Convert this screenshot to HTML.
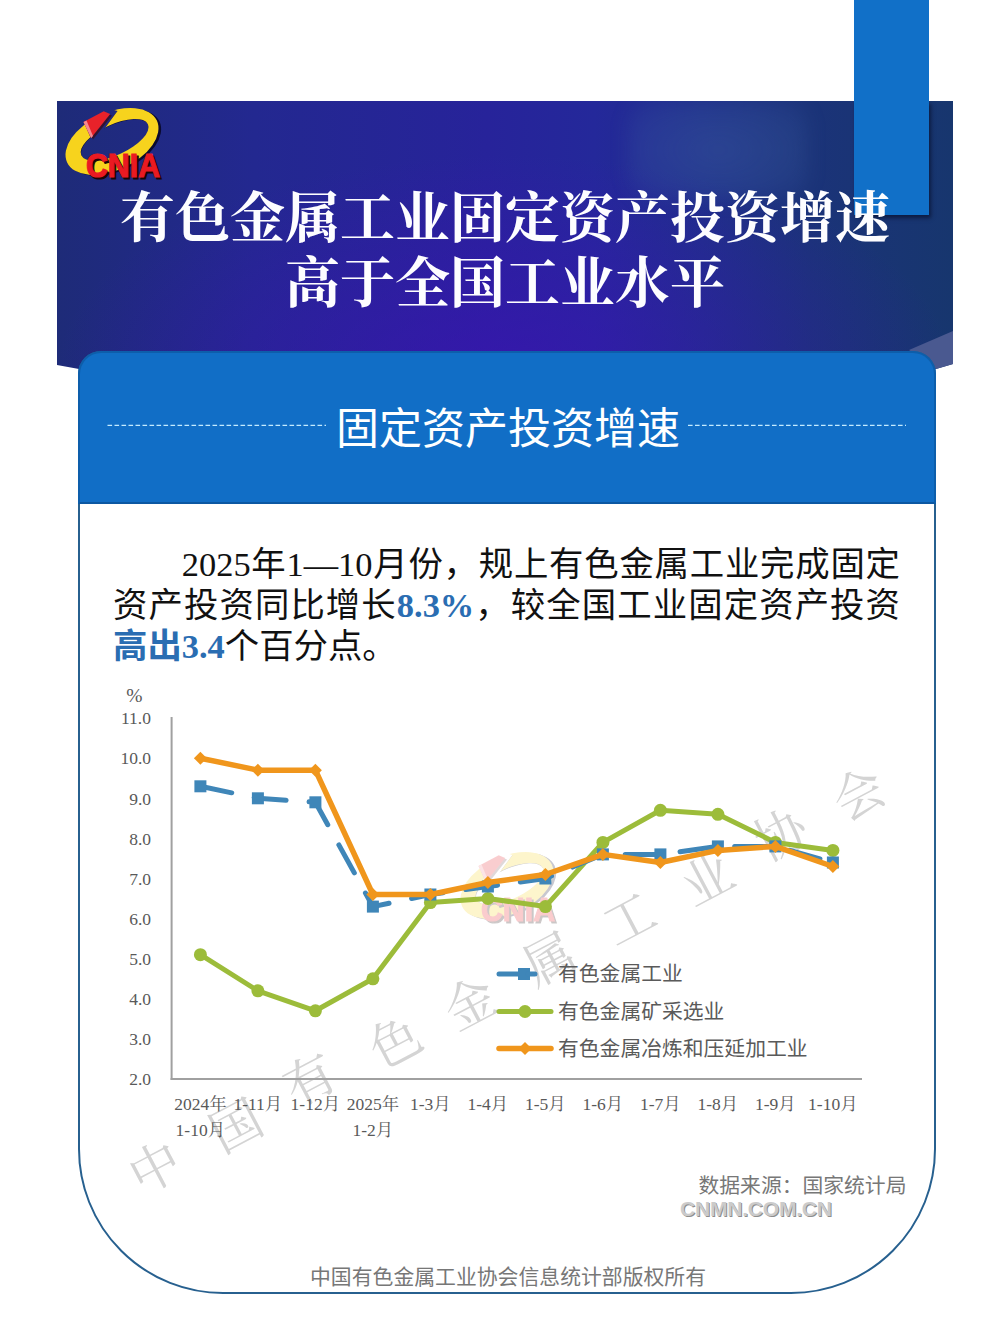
<!DOCTYPE html>
<html lang="zh-CN">
<head>
<meta charset="utf-8">
<title>有色金属工业固定资产投资增速高于全国工业水平</title>
<style>
html,body{margin:0;padding:0;}
body{width:1008px;height:1344px;overflow:hidden;background:#fff;position:relative;font-family:"Liberation Sans","Noto Sans CJK SC",sans-serif;}
.abs{position:absolute;}
#header{left:57px;top:101px;width:896px;height:268px;
  background:radial-gradient(ellipse 50% 80% at 50% 100%,rgba(62,16,182,0.6) 0%,rgba(62,16,182,0.28) 55%,rgba(62,16,182,0) 100%),
  linear-gradient(90deg,#1e2b78 0%,#232890 22%,#27239a 48%,#24289a 60%,#1f2f8a 72%,#1b3379 84%,#17366e 100%);
  clip-path:polygon(0 0,100% 0,100% 263px,879px 268px,22px 268px,0 264px);}
#glow{left:571px;top:-1px;width:180px;height:100px;border-radius:24px;
  background:radial-gradient(ellipse at center,rgba(70,110,170,0.32) 0%,rgba(70,110,170,0.2) 60%,rgba(70,110,170,0.06) 100%);filter:blur(9px);}
#fold{left:0;top:0;width:1008px;height:400px;}
.title{left:57px;width:896px;text-align:center;color:#fdfdff;font-family:"Liberation Serif","Noto Serif CJK SC",serif;font-weight:700;font-size:55px;line-height:60px;white-space:nowrap;}
#card{left:78px;top:351px;width:858px;height:943px;box-sizing:border-box;border:2px solid #27608f;border-radius:23px 23px 145px 145px;background:#fff;overflow:hidden;}
#cardtop{left:78px;top:351px;width:858px;height:152.5px;box-sizing:border-box;background:#116ec6;border:2px solid #0d5eab;border-bottom:2px solid #0c58a2;border-radius:23px 23px 0 0;}
#sect{left:60px;width:896px;top:400.5px;text-align:center;color:#fff;font-size:43px;line-height:56px;font-family:"Liberation Sans","Noto Sans CJK SC",sans-serif;}
.dash{top:424px;height:0;border-top:1.3px dashed #b9d8f5;}
#para{left:113px;top:544px;width:787px;font-size:34.4px;line-height:41px;color:#111;text-align:justify;text-align-last:left;
  font-family:"Liberation Serif","Noto Sans CJK SC",sans-serif;text-indent:68.8px;}
#para .b{color:#2a6db2;font-weight:700;}
#para .bs{color:#2a6db2;}
.src{color:#777;font-size:20.6px;line-height:24px;font-family:"Liberation Sans","Noto Sans CJK SC",sans-serif;white-space:nowrap;}
.yl{font-family:"Liberation Serif","Noto Serif CJK SC",serif;font-size:17.5px;fill:#595959;text-anchor:end;}
.xl{font-family:"Liberation Serif","Noto Serif CJK SC",serif;font-size:17.5px;fill:#595959;text-anchor:middle;}
.lg{font-family:"Liberation Sans","Noto Sans CJK SC",sans-serif;font-size:20.8px;fill:#5a5a5a;}
.wm{font-family:"Liberation Serif","Noto Serif CJK SC",serif;font-weight:400;font-size:51px;fill:#d4d4d4;text-anchor:middle;dominant-baseline:central;}
#cnmn{left:680px;top:1197px;font-size:21px;line-height:24px;font-weight:700;color:#cbcbcb;font-family:"Liberation Sans",sans-serif;letter-spacing:-0.2px;text-shadow:1px 1px 0 #8e8e8e;}
</style>
</head>
<body>
<div id="header" class="abs"><div id="glow" class="abs"></div></div>
<svg id="fold" class="abs" width="1008" height="400" viewBox="0 0 1008 400">
  <polygon points="953,331 909,350 936,369 953,364" fill="#4a5990"/>
</svg>
<div class="abs" style="left:854px;top:101px;width:75px;height:114px;background:#1170c8;box-shadow:2px 3px 4px rgba(0,0,20,0.5);clip-path:inset(0 -12px -12px -12px);"></div>
<div id="bar2" class="abs" style="left:854px;top:0;width:75px;height:215px;background:#1170c8;"></div>

<svg class="abs" style="left:0;top:0" width="200" height="200" viewBox="0 0 200 200">
  <defs><clipPath id="ringclip"><path clip-rule="evenodd" d="M0,0 H200 V200 H0 Z M82,118 L104,107 L117.5,111 L97,139 L91,138.5 Z"/></clipPath></defs>
    <g clip-path="url(#ringclip)">
      <g transform="rotate(-25 112 141.5)">
        <path fill-rule="evenodd" fill="#0a0a30" d="M64.5,143.5 a49.5,28.8 0 1,0 99,0 a49.5,28.8 0 1,0 -99,0 Z M78.5,141.5 a36.8,15.2 0 1,0 73.6,0 a36.8,15.2 0 1,0 -73.6,0 Z"/>
        <path fill-rule="evenodd" fill="#f7d31d" d="M62.5,141.5 a49.5,28.8 0 1,0 99,0 a49.5,28.8 0 1,0 -99,0 Z M78.3,141 a36.8,15.2 0 1,0 73.6,0 a36.8,15.2 0 1,0 -73.6,0 Z"/>
      </g>
    </g>
    <polygon points="85,123 105,112.5 112,115.5 93,139.5" fill="#3a0a10" opacity="0.7"/>
    <polygon points="83.5,122 103.7,111.3 110.2,114 91.1,138" fill="#e8222a"/>
    <polygon points="83.5,122 86.5,120.5 93,136 91.1,138" fill="#f58a90"/>
    <text x="88" y="179" font-family="Liberation Sans, sans-serif" font-weight="700" font-size="33.5" fill="#1a0505" stroke="#1a0505" stroke-width="1.2" textLength="74" lengthAdjust="spacingAndGlyphs">CNIA</text>
    <text x="86" y="177" font-family="Liberation Sans, sans-serif" font-weight="700" font-size="33.5" fill="#ea1a22" stroke="#ea1a22" stroke-width="1.2" textLength="74" lengthAdjust="spacingAndGlyphs">CNIA</text>
</svg>
<div class="abs title" style="top:189px;">有色金属工业固定资产投资增速</div>
<div class="abs title" style="top:254px;">高于全国工业水平</div>

<div id="card" class="abs"></div>
<div id="cardtop" class="abs"></div>
<svg class="abs" style="left:0;top:400px" width="1008" height="50" viewBox="0 400 1008 50">
  <line x1="107.5" y1="425.3" x2="326" y2="425.3" stroke="#c4ebff" stroke-width="1.3" stroke-dasharray="4.6 2.4"/>
  <line x1="688" y1="425.3" x2="906" y2="425.3" stroke="#c4ebff" stroke-width="1.3" stroke-dasharray="4.6 2.4"/>
</svg>
<div id="sect" class="abs">固定资产投资增速</div>

<div id="para" class="abs">2025年1—10月份，规上有色金属工业完成固定资产投资同比增长<span class="b">8.3%</span>，较全国工业固定资产投资<span class="bs" style="font-weight:700">高出</span><span class="b">3.4</span>个百分点。</div>

<!-- CHART -->
<svg class="abs" style="left:0;top:0" width="1008" height="1344" viewBox="0 0 1008 1344">
<text x="155.7" y="1168.8" transform="rotate(-27.8 155.7 1168.8)" class="wm">中</text>
<text x="236.6" y="1127.0" transform="rotate(-27.8 236.6 1127.0)" class="wm">国</text>
<text x="310.5" y="1081.0" transform="rotate(-27.8 310.5 1081.0)" class="wm">有</text>
<text x="396.0" y="1043.0" transform="rotate(-27.8 396.0 1043.0)" class="wm">色</text>
<text x="471.0" y="1004.5" transform="rotate(-27.8 471.0 1004.5)" class="wm">金</text>
<text x="550.0" y="960.5" transform="rotate(-27.8 550.0 960.5)" class="wm">属</text>
<text x="630.0" y="920.0" transform="rotate(-27.8 630.0 920.0)" class="wm">工</text>
<text x="708.0" y="880.5" transform="rotate(-27.8 708.0 880.5)" class="wm">业</text>
<text x="781.6" y="835.5" transform="rotate(-27.8 781.6 835.5)" class="wm">协</text>
<text x="859.3" y="795.4" transform="rotate(-27.8 859.3 795.4)" class="wm">会</text>
<g transform="translate(395,744)" opacity="0.22" style="filter:blur(0.7px)">
    <g clip-path="url(#ringclip)">
      <g transform="rotate(-25 112 141.5)">
        <path fill-rule="evenodd" fill="#0a0a30" d="M64.5,143.5 a49.5,28.8 0 1,0 99,0 a49.5,28.8 0 1,0 -99,0 Z M78.5,141.5 a36.8,15.2 0 1,0 73.6,0 a36.8,15.2 0 1,0 -73.6,0 Z"/>
        <path fill-rule="evenodd" fill="#f7d31d" d="M62.5,141.5 a49.5,28.8 0 1,0 99,0 a49.5,28.8 0 1,0 -99,0 Z M78.3,141 a36.8,15.2 0 1,0 73.6,0 a36.8,15.2 0 1,0 -73.6,0 Z"/>
      </g>
    </g>
    <polygon points="85,123 105,112.5 112,115.5 93,139.5" fill="#3a0a10" opacity="0.7"/>
    <polygon points="83.5,122 103.7,111.3 110.2,114 91.1,138" fill="#e8222a"/>
    <polygon points="83.5,122 86.5,120.5 93,136 91.1,138" fill="#f58a90"/>
    <text x="88" y="179" font-family="Liberation Sans, sans-serif" font-weight="700" font-size="33.5" fill="#1a0505" stroke="#1a0505" stroke-width="1.2" textLength="74" lengthAdjust="spacingAndGlyphs">CNIA</text>
    <text x="86" y="177" font-family="Liberation Sans, sans-serif" font-weight="700" font-size="33.5" fill="#ea1a22" stroke="#ea1a22" stroke-width="1.2" textLength="74" lengthAdjust="spacingAndGlyphs">CNIA</text>
</g>
<line x1="171.6" y1="717" x2="171.6" y2="1080" stroke="#a0a0a0" stroke-width="2"/>
<line x1="170.6" y1="1079" x2="862" y2="1079" stroke="#a0a0a0" stroke-width="2"/>
<text x="151" y="1085.2" class="yl">2.0</text>
<text x="151" y="1045.1" class="yl">3.0</text>
<text x="151" y="1005.0" class="yl">4.0</text>
<text x="151" y="964.9" class="yl">5.0</text>
<text x="151" y="924.8" class="yl">6.0</text>
<text x="151" y="884.7" class="yl">7.0</text>
<text x="151" y="844.6" class="yl">8.0</text>
<text x="151" y="804.5" class="yl">9.0</text>
<text x="151" y="764.4" class="yl">10.0</text>
<text x="151" y="724.3" class="yl">11.0</text>
<text x="134.3" y="702" class="yl" style="text-anchor:middle;font-size:19.5px">%</text>
<text x="200.4" y="1110" class="xl">2024年</text>
<text x="200.4" y="1135.5" class="xl">1-10月</text>
<text x="257.9" y="1110" class="xl">1-11月</text>
<text x="315.4" y="1110" class="xl">1-12月</text>
<text x="372.9" y="1110" class="xl">2025年</text>
<text x="372.9" y="1135.5" class="xl">1-2月</text>
<text x="430.4" y="1110" class="xl">1-3月</text>
<text x="487.9" y="1110" class="xl">1-4月</text>
<text x="545.4" y="1110" class="xl">1-5月</text>
<text x="602.9" y="1110" class="xl">1-6月</text>
<text x="660.4" y="1110" class="xl">1-7月</text>
<text x="717.9" y="1110" class="xl">1-8月</text>
<text x="775.4" y="1110" class="xl">1-9月</text>
<text x="832.9" y="1110" class="xl">1-10月</text>
<polyline points="200.4,954.7 257.9,990.8 315.4,1010.8 372.9,978.8 430.4,902.6 487.9,898.5 545.4,906.6 602.9,842.4 660.4,810.3 717.9,814.3 775.4,842.4 832.9,850.4" fill="none" stroke="#9cbc3a" stroke-width="5" stroke-linejoin="round"/>
<circle cx="200.4" cy="954.7" r="6.5" fill="#9cbc3a"/>
<circle cx="257.9" cy="990.8" r="6.5" fill="#9cbc3a"/>
<circle cx="315.4" cy="1010.8" r="6.5" fill="#9cbc3a"/>
<circle cx="372.9" cy="978.8" r="6.5" fill="#9cbc3a"/>
<circle cx="430.4" cy="902.6" r="6.5" fill="#9cbc3a"/>
<circle cx="487.9" cy="898.5" r="6.5" fill="#9cbc3a"/>
<circle cx="545.4" cy="906.6" r="6.5" fill="#9cbc3a"/>
<circle cx="602.9" cy="842.4" r="6.5" fill="#9cbc3a"/>
<circle cx="660.4" cy="810.3" r="6.5" fill="#9cbc3a"/>
<circle cx="717.9" cy="814.3" r="6.5" fill="#9cbc3a"/>
<circle cx="775.4" cy="842.4" r="6.5" fill="#9cbc3a"/>
<circle cx="832.9" cy="850.4" r="6.5" fill="#9cbc3a"/>
<polyline points="200.4,786.3 257.9,798.3 315.4,802.3 372.9,906.6 430.4,894.5 487.9,886.5 545.4,878.5 602.9,854.4 660.4,854.4 717.9,846.4 775.4,846.4 832.9,862.5" fill="none" stroke="#3f86b8" stroke-width="5" stroke-dasharray="32 23" stroke-linecap="round" stroke-linejoin="round"/>
<rect x="194.4" y="780.3" width="12" height="12" fill="#3f86b8"/>
<rect x="251.9" y="792.3" width="12" height="12" fill="#3f86b8"/>
<rect x="309.4" y="796.3" width="12" height="12" fill="#3f86b8"/>
<rect x="366.9" y="900.6" width="12" height="12" fill="#3f86b8"/>
<rect x="424.4" y="888.5" width="12" height="12" fill="#3f86b8"/>
<rect x="481.9" y="880.5" width="12" height="12" fill="#3f86b8"/>
<rect x="539.4" y="872.5" width="12" height="12" fill="#3f86b8"/>
<rect x="596.9" y="848.4" width="12" height="12" fill="#3f86b8"/>
<rect x="654.4" y="848.4" width="12" height="12" fill="#3f86b8"/>
<rect x="711.9" y="840.4" width="12" height="12" fill="#3f86b8"/>
<rect x="769.4" y="840.4" width="12" height="12" fill="#3f86b8"/>
<rect x="826.9" y="856.5" width="12" height="12" fill="#3f86b8"/>
<polyline points="200.4,758.2 257.9,770.2 315.4,770.2 372.9,894.5 430.4,894.5 487.9,882.5 545.4,874.5 602.9,854.4 660.4,862.5 717.9,850.4 775.4,846.4 832.9,866.5" fill="none" stroke="#f0961c" stroke-width="5.5" stroke-linejoin="round"/>
<polygon points="200.4,751.7 206.9,758.2 200.4,764.7 193.9,758.2" fill="#f0961c"/>
<polygon points="257.9,763.7 264.4,770.2 257.9,776.7 251.4,770.2" fill="#f0961c"/>
<polygon points="315.4,763.7 321.9,770.2 315.4,776.7 308.9,770.2" fill="#f0961c"/>
<polygon points="372.9,888.0 379.4,894.5 372.9,901.0 366.4,894.5" fill="#f0961c"/>
<polygon points="430.4,888.0 436.9,894.5 430.4,901.0 423.9,894.5" fill="#f0961c"/>
<polygon points="487.9,876.0 494.4,882.5 487.9,889.0 481.4,882.5" fill="#f0961c"/>
<polygon points="545.4,868.0 551.9,874.5 545.4,881.0 538.9,874.5" fill="#f0961c"/>
<polygon points="602.9,847.9 609.4,854.4 602.9,860.9 596.4,854.4" fill="#f0961c"/>
<polygon points="660.4,856.0 666.9,862.5 660.4,869.0 653.9,862.5" fill="#f0961c"/>
<polygon points="717.9,843.9 724.4,850.4 717.9,856.9 711.4,850.4" fill="#f0961c"/>
<polygon points="775.4,839.9 781.9,846.4 775.4,852.9 768.9,846.4" fill="#f0961c"/>
<polygon points="832.9,860.0 839.4,866.5 832.9,873.0 826.4,866.5" fill="#f0961c"/>
<line x1="499" y1="974" x2="518" y2="974" stroke="#3f86b8" stroke-width="5" stroke-linecap="round"/>
<rect x="518" y="968" width="12" height="12" fill="#3f86b8"/>
<line x1="528" y1="974" x2="535" y2="974" stroke="#3f86b8" stroke-width="5" stroke-linecap="round"/>
<line x1="499" y1="1011.5" x2="551" y2="1011.5" stroke="#9cbc3a" stroke-width="5" stroke-linecap="round"/>
<circle cx="525" cy="1011.5" r="6.5" fill="#9cbc3a"/>
<line x1="499" y1="1048.5" x2="551" y2="1048.5" stroke="#f0961c" stroke-width="5.5" stroke-linecap="round"/>
<polygon points="525,1042.0 531.5,1048.5 525,1055.0 518.5,1048.5" fill="#f0961c"/>
<text x="558" y="981.0" class="lg">有色金属工业</text>
<text x="558" y="1018.5" class="lg">有色金属矿采选业</text>
<text x="558" y="1055.5" class="lg">有色金属冶炼和压延加工业</text>
</svg>
<!-- /CHART -->

<div class="abs src" style="left:698.5px;top:1174px;font-size:20.8px;">数据来源：国家统计局</div>
<div id="cnmn" class="abs">CNMN.COM.CN</div>
<div class="abs src" style="left:310px;top:1265px;font-size:20.85px;">中国有色金属工业协会信息统计部版权所有</div>
</body>
</html>
